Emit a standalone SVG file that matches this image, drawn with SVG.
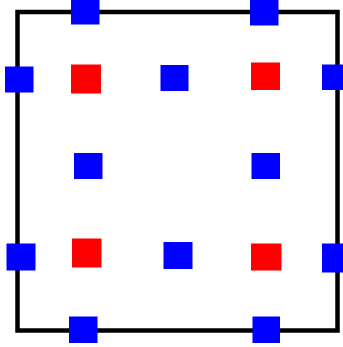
<svg xmlns="http://www.w3.org/2000/svg" width="343" height="347" viewBox="0 0 343 347">
<style>
.frame{fill:none;stroke:#000;stroke-width:4.5}
.b{fill:#0000ff}
.r{fill:#ff0000}
</style>
<rect width="343" height="347" fill="#fff"/>
<g id="frame"><rect class="frame" x="17.5" y="12" width="320" height="318.5"/></g>
<g id="connectors"></g>
<g id="n-top-1"><rect class="b" x="71" y="0" width="28.5" height="24.5"/></g>
<g id="n-top-2"><rect class="b" x="250" y="0" width="28.5" height="25.5"/></g>
<g id="n-left-1"><rect class="b" x="5" y="66.5" width="28.5" height="26"/></g>
<g id="n-red-1"><rect class="r" x="71" y="64.5" width="30" height="29"/></g>
<g id="n-mid-1"><rect class="b" x="160.5" y="65" width="28" height="26"/></g>
<g id="n-red-2"><rect class="r" x="251" y="62.5" width="29" height="27.5"/></g>
<g id="n-right-1"><rect class="b" x="322" y="64.5" width="21" height="25.5"/></g>
<g id="n-center-l"><rect class="b" x="74" y="153" width="28.5" height="26"/></g>
<g id="n-center-r"><rect class="b" x="251.5" y="153" width="28.5" height="26"/></g>
<g id="n-left-2"><rect class="b" x="6.5" y="243.5" width="29" height="27"/></g>
<g id="n-red-3"><rect class="r" x="72" y="238.5" width="29.5" height="29"/></g>
<g id="n-mid-2"><rect class="b" x="163.5" y="242" width="29" height="27"/></g>
<g id="n-red-4"><rect class="r" x="251" y="243.5" width="30.5" height="27"/></g>
<g id="n-right-2"><rect class="b" x="322" y="243.5" width="21" height="29"/></g>
<g id="n-bot-1"><rect class="b" x="69" y="316.5" width="28.5" height="26.5"/></g>
<g id="n-bot-2"><rect class="b" x="252.5" y="316.5" width="27.5" height="26.5"/></g>
</svg>
